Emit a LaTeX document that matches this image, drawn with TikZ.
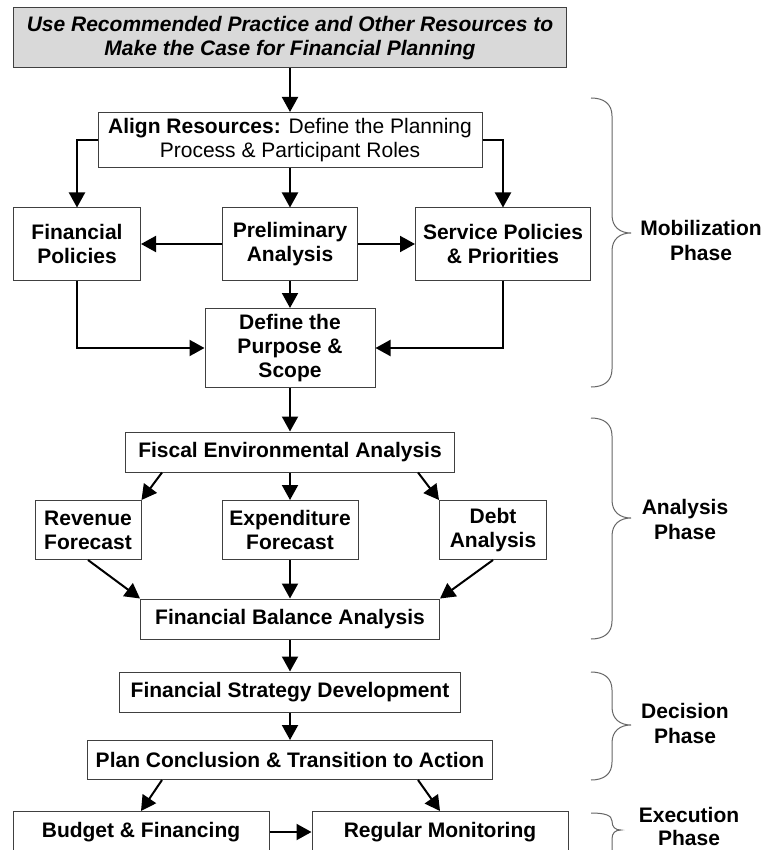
\documentclass[tikz,border=0pt]{standalone}
\usepackage{fontspec}
\setmainfont{Liberation Sans}
\usetikzlibrary{arrows.meta}
\begin{document}
\begin{tikzpicture}%
	[x=1pt, y=-1pt,
	>={Triangle[length=15pt,width=16pt]},
	box/.style={draw=black!75, line width=1pt, fill=white, inner sep=2pt, align=center, font=\fontsize{21}{24}\selectfont\bfseries},
	plainbox/.style={box, font=\fontsize{21}{24}\selectfont},
	headbox/.style={box, fill=black!15, font=\fontsize{21}{24}\selectfont\bfseries\itshape},
	flow/.style={->, color=black, line width=2pt},
	bracket/.style={color=black!60, line width=1pt},
	phase/.style={align=center, font=\fontsize{21}{25}\selectfont\bfseries}]
	\clip (0,0) rectangle (762,850);

	%boxes
	\node[headbox, minimum width=553pt, minimum height=60pt] (case) at (290,38) {Use Recommended Practice and Other Resources to\\Make the Case for Financial Planning};
	\node[plainbox, minimum width=384pt, minimum height=55pt] (align) at (290,140) {\textbf{Align Resources:} Define the Planning\\Process \& Participant Roles};
	\node[box, minimum width=127pt, minimum height=72pt] (finpol) at (77,244) {Financial\\Policies};
	\node[box, minimum width=135pt, minimum height=72pt] (prelim) at (290,244) {Preliminary\\Analysis};
	\node[box, minimum width=175pt, minimum height=72pt] (service) at (503,244) {Service Policies\\\& Priorities};
	\node[box, minimum width=170pt, minimum height=79pt] (purpose) at (290,348) {Define the\\Purpose \&\\Scope};
	\node[box, minimum width=329pt, minimum height=40pt] (fiscal) at (290,452) {Fiscal Environmental Analysis};
	\node[box, minimum width=106pt, minimum height=59pt] (revenue) at (88,530) {Revenue\\Forecast};
	\node[box, minimum width=136pt, minimum height=59pt] (expend) at (290,530) {Expenditure\\Forecast};
	\node[box, minimum width=107pt, minimum height=59pt] (debt) at (493,530) {Debt\\Analysis};
	\node[box, minimum width=299pt, minimum height=40pt] (balance) at (290,619) {Financial Balance Analysis};
	\node[box, minimum width=341pt, minimum height=40pt] (strategy) at (290,692) {Financial Strategy Development};
	\node[box, minimum width=405pt, minimum height=39pt] (plan) at (290,760) {Plan Conclusion \& Transition to Action};
	\node[box, minimum width=256pt, minimum height=41pt] (budget) at (141,832) {Budget \& Financing};
	\node[box, minimum width=256pt, minimum height=41pt] (monitor) at (440,832) {Regular Monitoring};

	%arrows
	\draw[flow] (case) -- (align);
	\draw[flow] (align.west) -| (finpol.north);
	\draw[flow] (align.east) -| (service.north);
	\draw[flow] (align) -- (prelim);
	\draw[flow] (prelim) -- (finpol);
	\draw[flow] (prelim) -- (service);
	\draw[flow] (prelim) -- (purpose);
	\draw[flow] (finpol.south) |- (purpose.west);
	\draw[flow] (service.south) |- (purpose.east);
	\draw[flow] (purpose) -- (fiscal);
	\draw[flow] ([xshift=-128pt]fiscal.south) -- (revenue.north east);
	\draw[flow] (fiscal) -- (expend);
	\draw[flow] ([xshift=128pt]fiscal.south) -- (debt.north west);
	\draw[flow] (revenue.south) -- (balance.north west);
	\draw[flow] (expend) -- (balance);
	\draw[flow] (debt.south) -- (balance.north east);
	\draw[flow] (balance) -- (strategy);
	\draw[flow] (strategy) -- (plan);
	\draw[flow] ([xshift=-128pt]plan.south) -- (budget.north);
	\draw[flow] ([xshift=128pt]plan.south) -- (monitor.north);
	\draw[flow] (budget) -- (monitor);

	%braces
	\foreach \t/\m/\b in {98/233/387, 418/518/639, 672/725/780}
		\draw[bracket] (591,\t) .. controls (604,\t) and (612,\t+6) .. (612,\t+18) -- (612,\m-18) .. controls (612,\m-6) and (620,\m) .. (631,\m) .. controls (620,\m) and (612,\m+6) .. (612,\m+18) -- (612,\b-18) .. controls (612,\b-6) and (604,\b) .. (591,\b);
	\draw[bracket] (591,813) .. controls (604,813) and (612,815) .. (612,821) .. controls (612,827) and (615,830) .. (621,830) .. controls (615,830) and (612,833) .. (612,839) -- (612,852) .. controls (612,858) and (604,860) .. (591,860);

	\node[phase] (mobil) at (701,240) {Mobilization\\Phase};
	\node[phase] (analysis) at (685,519) {Analysis\\Phase};
	\node[phase] (decision) at (685,723) {Decision\\Phase};
	\node[phase, font=\fontsize{21}{23}\selectfont\bfseries] (execution) at (689,826) {Execution\\Phase};
\end{tikzpicture}
\end{document}
